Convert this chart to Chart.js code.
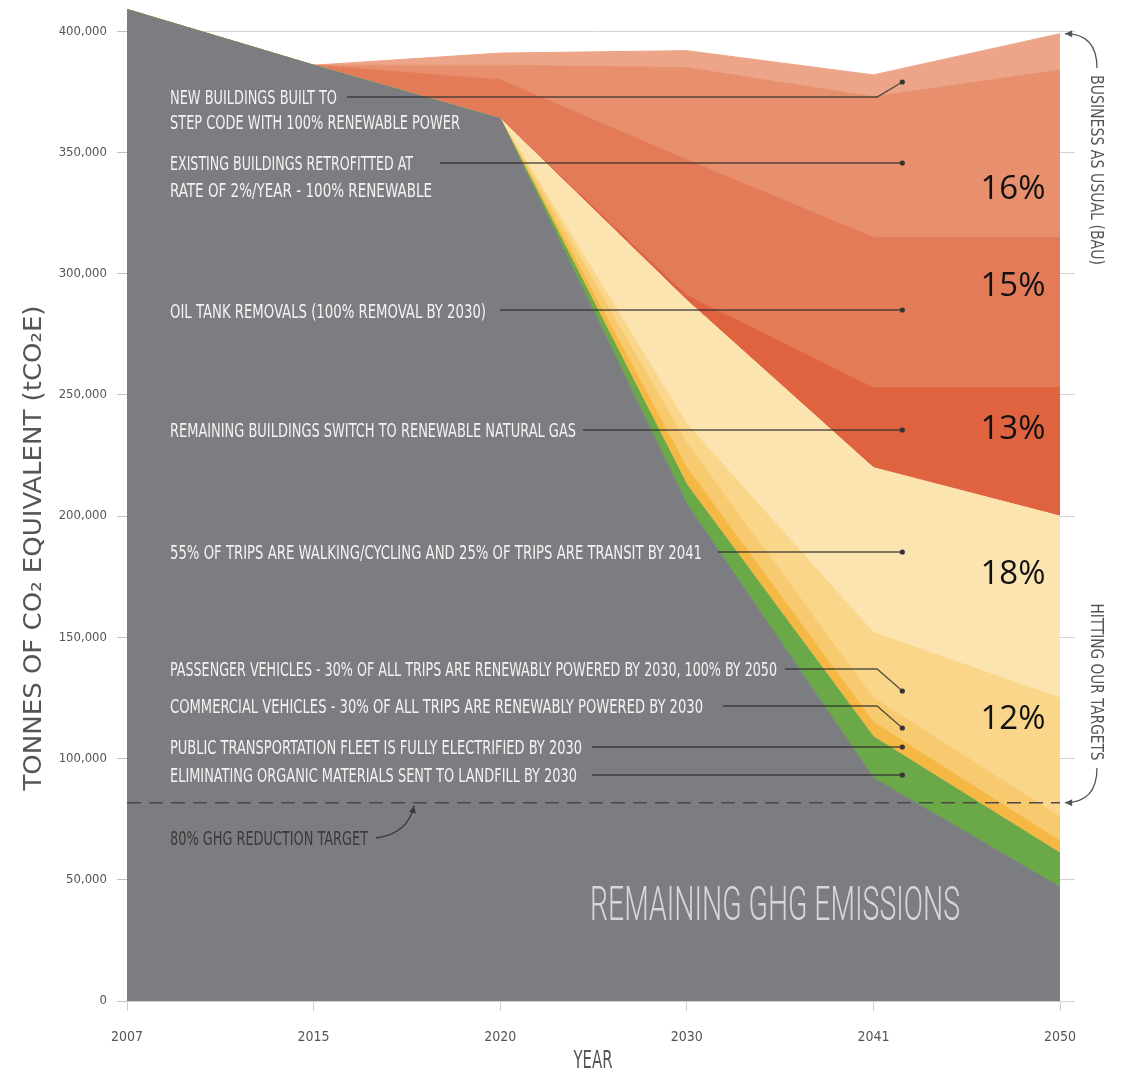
<!DOCTYPE html>
<html>
<head>
<meta charset="utf-8">
<title>GHG reduction wedges</title>
<script src="https://cdn.jsdelivr.net/npm/chart.js@4.4.1/dist/chart.umd.min.js"></script>
<style>
  html, body { margin: 0; padding: 0; background: #ffffff; }
  #wrap { width: 1124px; height: 1071px; }
</style>
</head>
<body>
<div id="wrap"><canvas id="ghgChart" width="1124" height="1071"></canvas></div>
<script>
// Anos (eixo categórico, espaçamento igual como no original)
const years = ["2007", "2015", "2020", "2030", "2041", "2050"];

// Camadas empilhadas, de baixo para cima (tCO2e)
const remaining = [409000, 386000, 364000, 205000, 92000, 47000];
const organics = [0, 0, 0, 8000, 17000, 14000];
const transit = [0, 0, 0, 7000, 6000, 5000];
const commercial = [0, 0, 0, 10000, 10000, 10000];
const passenger = [0, 0, 0, 8000, 27000, 49000];
const walking = [0, 0, 0, 51000, 68000, 75000];
const rng = [0, 0, 0, 2000, 33000, 53000];
const oilTanks = [0, 0, 16000, 56000, 62000, 62000];
const retrofits = [0, 0, 6000, 38000, 58000, 69000];
const newBuildings = [0, 0, 5000, 7000, 9000, 15000];

// Meta de redução de 80%
const targetLine = [81800, 81800, 81800, 81800, 81800, 81800];

// Eixo Y
const yMin = 0;
const yMax = 410000;
const yTicks = [0, 50000, 100000, 150000, 200000, 250000, 300000, 350000, 400000];

// Percentuais à direita
const shareLabels = ["16%", "15%", "13%", "18%", "12%"];

const COND = '"DejaVu Sans Condensed", "Liberation Sans Narrow", "DejaVu Sans", sans-serif';

/**
 * Texto comprimido na horizontal (fonte condensada do original)
 */
function drawNarrow(ctx, text, x, y, o) {
  ctx.save();
  ctx.font = `${o.weight || "normal"} ${o.size}px ${o.family || COND}`;
  ctx.fillStyle = o.color;
  ctx.textBaseline = "alphabetic";
  ctx.textAlign = "left";
  const natural = ctx.measureText(text).width;
  const sx = o.width ? o.width / natural : 1;
  ctx.translate(x, y);
  if (o.rotate) ctx.rotate(o.rotate);
  ctx.scale(sx, 1);
  let startX = 0;
  if (o.align === "center") startX = -natural / 2;
  if (o.align === "right") startX = -natural;
  // centro vertical nas maiúsculas
  ctx.fillText(text, startX, o.size * 0.36);
  ctx.restore();
}

function curvedArrow(ctx, from, ctrl, to, color) {
  ctx.save();
  ctx.strokeStyle = color;
  ctx.fillStyle = color;
  ctx.lineWidth = 1.3;
  ctx.beginPath();
  ctx.moveTo(from[0], from[1]);
  ctx.quadraticCurveTo(ctrl[0], ctrl[1], to[0], to[1]);
  ctx.stroke();
  const ang = Math.atan2(to[1] - ctrl[1], to[0] - ctrl[0]);
  const len = 8;
  ctx.beginPath();
  ctx.moveTo(to[0], to[1]);
  ctx.lineTo(to[0] - len * Math.cos(ang - 0.45), to[1] - len * Math.sin(ang - 0.45));
  ctx.lineTo(to[0] - len * Math.cos(ang + 0.45), to[1] - len * Math.sin(ang + 0.45));
  ctx.closePath();
  ctx.fill();
  ctx.restore();
}

// Rótulos de texto com linhas de chamada
const notes = [
  { text: ["NEW BUILDINGS BUILT TO", "STEP CODE WITH 100% RENEWABLE POWER"], y: [97, 122], w: [167, 290], lineStart: 347, lineY: 97, dotY: 82 },
  { text: ["EXISTING BUILDINGS RETROFITTED AT", "RATE OF 2%/YEAR - 100% RENEWABLE"], y: [163, 190], w: [243, 262], lineStart: 440, lineY: 163, dotY: 163 },
  { text: ["OIL TANK REMOVALS (100% REMOVAL BY 2030)"], y: [311], w: [316], lineStart: 500, lineY: 310, dotY: 310 },
  { text: ["REMAINING BUILDINGS SWITCH TO RENEWABLE NATURAL GAS"], y: [430], w: [406], lineStart: 583, lineY: 430, dotY: 430 },
  { text: ["55% OF TRIPS ARE WALKING/CYCLING AND 25% OF TRIPS ARE TRANSIT BY 2041"], y: [552], w: [532], lineStart: 718, lineY: 552, dotY: 552 },
  { text: ["PASSENGER VEHICLES - 30% OF ALL TRIPS ARE RENEWABLY POWERED BY 2030, 100% BY 2050"], y: [669], w: [607], lineStart: 785, lineY: 669, dotY: 691 },
  { text: ["COMMERCIAL VEHICLES - 30% OF ALL TRIPS ARE RENEWABLY POWERED BY 2030"], y: [706], w: [533], lineStart: 723, lineY: 706, dotY: 728 },
  { text: ["PUBLIC TRANSPORTATION FLEET IS FULLY ELECTRIFIED BY 2030"], y: [747], w: [412], lineStart: 592, lineY: 747, dotY: 747 },
  { text: ["ELIMINATING ORGANIC MATERIALS SENT TO LANDFILL BY 2030"], y: [775], w: [407], lineStart: 592, lineY: 775, dotY: 775 },
];
const shareY = [190, 287, 430, 575, 720];

const annotations = {
  id: "ghgAnnotations",
  afterDatasetsDraw(chart) {
    const { ctx } = chart;
    const xs = chart.scales.x;
    const ys = chart.scales.y;
    const dotX = xs.getPixelForValue(4.155);
    const bendX = xs.getPixelForValue(4.02);

    // linhas de chamada + pontos
    ctx.save();
    ctx.strokeStyle = "rgba(45, 45, 45, 0.8)";
    ctx.fillStyle = "#333333";
    ctx.lineWidth = 1.3;
    notes.forEach((n) => {
      ctx.beginPath();
      ctx.moveTo(n.lineStart, n.lineY);
      if (n.dotY !== n.lineY) {
        ctx.lineTo(bendX, n.lineY);
      }
      ctx.lineTo(dotX, n.dotY);
      ctx.stroke();
      ctx.beginPath();
      ctx.arc(dotX, n.dotY, 2.6, 0, Math.PI * 2);
      ctx.fill();
    });
    ctx.restore();

    notes.forEach((n) => {
      n.text.forEach((t, i) => {
        drawNarrow(ctx, t, 170, n.y[i], { size: 20, color: "#f3f3f3", width: n.w[i] });
      });
    });

    // percentuais
    ctx.save();
    ctx.font = '33px "Open Sans", "Noto Sans", sans-serif';
    ctx.fillStyle = "#111111";
    ctx.textAlign = "center";
    ctx.textBaseline = "middle";
    shareLabels.forEach((s, i) => ctx.fillText(s, 1013, shareY[i]));
    ctx.restore();

    // meta 80%
    const targetY = ys.getPixelForValue(targetLine[0]);
    drawNarrow(ctx, "80% GHG REDUCTION TARGET", 170, 838, { size: 20, color: "#3a3a3a", width: 198 });
    curvedArrow(ctx, [376, 838], [408, 834], [414, targetY + 3], "#3a3a3a");

    drawNarrow(ctx, "REMAINING GHG EMISSIONS", 590, 903, {
      size: 48, color: "#d7d7d9", width: 370, weight: "300", family: 'Roboto, "Open Sans", sans-serif',
    });

    // textos verticais à direita
    const lastX = xs.getPixelForValue(years.length - 1);
    const bauTop = ys.getPixelForValue(
      remaining[5] + organics[5] + transit[5] + commercial[5] + passenger[5] +
      walking[5] + rng[5] + oilTanks[5] + retrofits[5] + newBuildings[5]
    );
    drawNarrow(ctx, "BUSINESS AS USUAL (BAU)", 1097, 170, { size: 17, color: "#555555", width: 190, rotate: Math.PI / 2, align: "center" });
    drawNarrow(ctx, "HITTING OUR TARGETS", 1097, 682, { size: 17, color: "#555555", width: 157, rotate: Math.PI / 2, align: "center" });
    curvedArrow(ctx, [1097, 68], [1097, bauTop], [lastX + 5, bauTop], "#555555");
    curvedArrow(ctx, [1097, 768], [1097, targetY], [lastX + 5, targetY], "#555555");

    // títulos dos eixos
    drawNarrow(ctx, "TONNES OF CO\u2082 EQUIVALENT (tCO\u2082E)", 32, 548, { size: 25, color: "#555555", width: 485, rotate: -Math.PI / 2, align: "center" });
    drawNarrow(ctx, "YEAR", 593, 1059, { size: 24, color: "#555555", width: 39, align: "center" });
  },
};

function area(label, data, color, fill) {
  return {
    label: label,
    data: data,
    backgroundColor: color,
    borderColor: color,
    borderWidth: 1,
    pointRadius: 0,
    fill: fill,
    tension: 0,
    yAxisID: "y",
  };
}

// Ticks fixos e sem folga extra no topo
function fixedTicks(axis) {
  axis.ticks = yTicks.map((v) => ({ value: v }));
}
function noEdgePadding(scale) {
  scale.paddingTop = 0;
  scale.paddingBottom = 0;
}

const ctx = document.getElementById("ghgChart");
new Chart(ctx, {
  type: "line",
  data: {
    labels: years,
    datasets: [
      area("Remaining GHG emissions", remaining, "#7c7d80", "origin"),
      area("Organics to landfill", organics, "#6aa848", "-1"),
      area("Public transportation", transit, "#f5b845", "-1"),
      area("Commercial vehicles", commercial, "#f8ca6f", "-1"),
      area("Passenger vehicles", passenger, "#fad68b", "-1"),
      area("Walking / cycling / transit", walking, "#fce4b0", "-1"),
      area("Renewable natural gas", rng, "#e0633f", "-1"),
      area("Oil tank removals", oilTanks, "#e47b58", "-1"),
      area("Existing building retrofits", retrofits, "#e8906d", "-1"),
      area("New buildings", newBuildings, "#eca588", "-1"),
      {
        label: "80% reduction target",
        data: targetLine,
        yAxisID: "y2",
        borderColor: "#4a4a4a",
        borderWidth: 1.5,
        borderDash: [14, 8],
        pointRadius: 0,
        fill: false,
        order: -1,
      },
    ],
  },
  options: {
    responsive: false,
    animation: false,
    events: [],
    layout: { padding: { top: 7, left: 0, right: 0, bottom: 0 } },
    plugins: {
      legend: { display: false },
      tooltip: { enabled: false },
    },
    scales: {
      x: {
        offset: false,
        grid: { display: true, drawOnChartArea: false, tickLength: 10, color: "#cfcfcf" },
        border: { display: true, color: "#d0d0d0" },
        ticks: { color: "#555555", padding: 18, font: { family: COND, size: 14 }, maxRotation: 0 },
        afterFit: (scale) => {
          scale.height = 70;
          scale.paddingLeft = 0;
          scale.paddingRight = 0;
        },
      },
      y: {
        stacked: true,
        min: yMin,
        max: yMax,
        afterBuildTicks: fixedTicks,
        grid: { color: "#d4d4d4", tickColor: "#c4c4c4", tickLength: 10 },
        border: { display: false },
        ticks: {
          padding: 10,
          color: "#555555",
          font: { family: COND, size: 13 },
          callback: (v) => v.toLocaleString("en-US"),
        },
        afterFit: (scale) => {
          scale.width = 127;
          noEdgePadding(scale);
        },
      },
      y2: {
        position: "right",
        stacked: false,
        min: yMin,
        max: yMax,
        afterBuildTicks: fixedTicks,
        grid: { drawOnChartArea: false, color: "#d4d4d4", tickLength: 15 },
        border: { display: false },
        ticks: { display: false },
        afterFit: (scale) => {
          scale.width = 64;
          noEdgePadding(scale);
        },
      },
    },
  },
  plugins: [annotations],
});
</script>
</body>
</html>
